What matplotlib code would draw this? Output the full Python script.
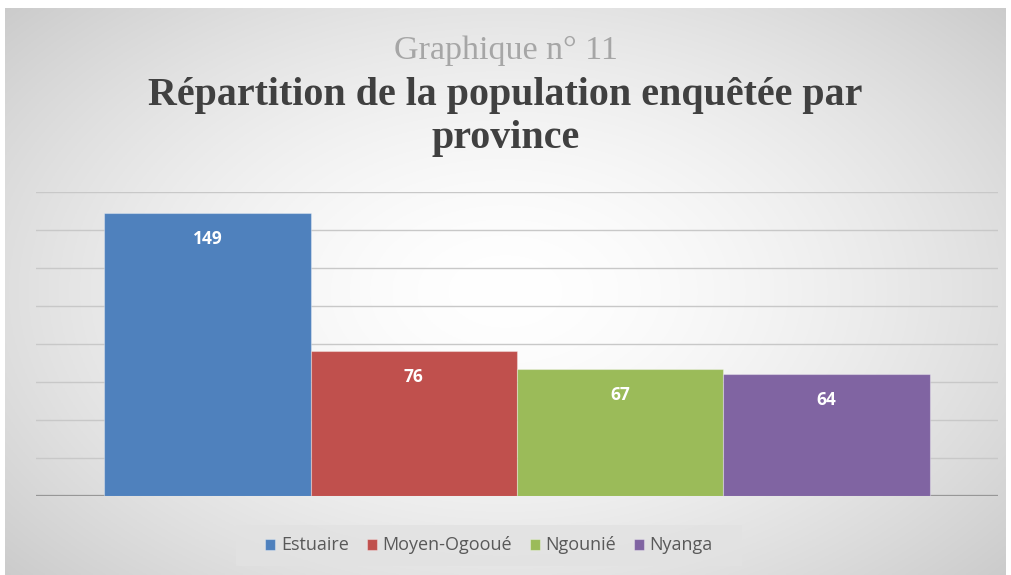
import numpy as np
import matplotlib.pyplot as plt
from matplotlib.patches import Rectangle

# donnees du graphique
provinces = ['Estuaire', 'Moyen-Ogooué', 'Ngounié', 'Nyanga']
effectifs = [149, 76, 67, 64]
couleurs = ['#4F81BD', '#C0504D', '#9BBB59', '#8064A2']
yticks = [0, 20, 40, 60, 80, 100, 120, 140, 160]

fig = plt.figure(figsize=(10.11, 5.75), dpi=100)
fig.patch.set_facecolor('white')

# fond degrade radial (style Excel)
bg = fig.add_axes([0.005, 0.0, 0.99, 0.986])
yy, xx = np.mgrid[-1:1:300j, -1:1:500j]
r = np.sqrt((xx * 0.9) ** 2 + (yy * 0.8) ** 2)
grad = 1.0 - 0.15 * np.clip(r, 0, 1.3) ** 1.6
bg.imshow(np.dstack([grad, grad, grad]), aspect='auto', extent=[0, 1, 0, 1])
bg.set_axis_off()

ax = fig.add_axes([0.0356, 0.1374, 0.9515, 0.5292])
ax.patch.set_alpha(0)
x = np.arange(len(provinces))
bars = ax.bar(x, effectifs, width=1.0, color=couleurs, edgecolor='none',
              label=provinces, zorder=2)
for b, v in zip(bars, effectifs):
    b.set_edgecolor((1, 1, 1, 0.35))
    b.set_linewidth(0.8)
    ax.annotate(str(v), (b.get_x() + b.get_width() / 2, v), xytext=(0, -18.7),
                textcoords='offset points', ha='center', va='center',
                color='white', fontsize=12.5, fontweight='bold',
                family='Open Sans', zorder=3)

ax.set_xlim(-0.83, 3.83)
ax.set_ylim(0, 160)
ax.set_yticks(yticks)
ax.yaxis.grid(True, color='#C8C8C8', linewidth=1.0, zorder=0)
ax.axhline(0, color='#8C8C8C', linewidth=1.6, zorder=1)
ax.set_xticks([])
ax.tick_params(left=False, labelleft=False)
for s in ax.spines.values():
    s.set_visible(False)

fig.text(0.5, 1 - 59 / 575, 'Graphique n° 11', ha='center', va='baseline',
         family='Liberation Serif', fontsize=24.5, color='#A6A6A6')
fig.text(0.5, 1 - 105 / 575, 'Répartition de la population enquêtée par',
         ha='center', va='baseline', family='Liberation Serif',
         fontsize=28.8, fontweight='bold', color='#404040')
fig.text(0.5, 1 - 148 / 575, 'province', ha='center', va='baseline',
         family='Liberation Serif', fontsize=28.8, fontweight='bold',
         color='#404040')

# cadre de la legende
fig.patches.append(Rectangle((236 / 1011, 1 - 566 / 575), 506 / 1011, 41 / 575,
                             transform=fig.transFigure, facecolor='#E2E2E2',
                             edgecolor='none', alpha=0.8, zorder=1))
leg = fig.legend(handles=bars, labels=provinces, loc='center',
                 bbox_to_anchor=(489 / 1011, 1 - 545.5 / 575), ncol=4,
                 frameon=False, handlelength=0.55, handleheight=0.55,
                 handletextpad=0.3, columnspacing=1.0, borderpad=0.0,
                 prop={'family': 'Open Sans', 'size': 13})
for t in leg.get_texts():
    t.set_color('#595959')

fig.savefig('out.png', dpi=100)
